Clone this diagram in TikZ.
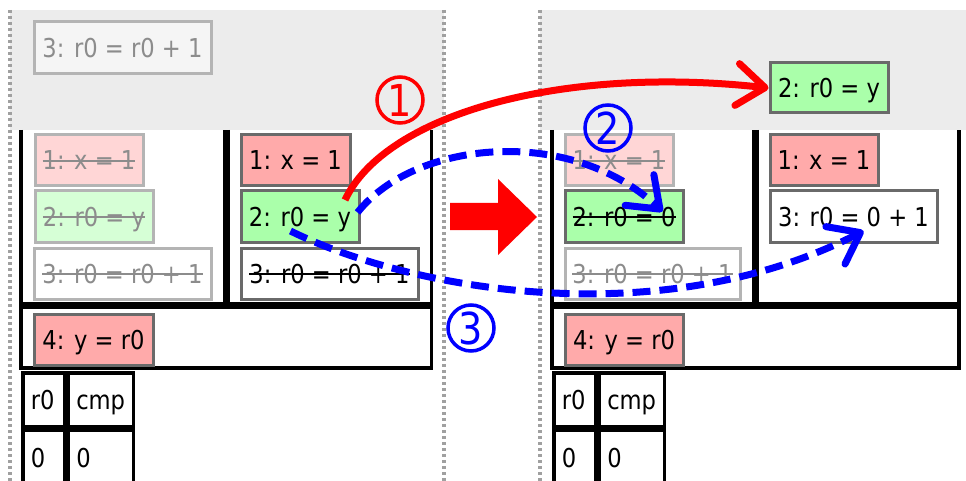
\documentclass[tikz,border=0pt]{standalone}
\usepackage{fontspec}
\setmainfont[FakeStretch=0.87]{DejaVu Sans}
\usetikzlibrary{calc,arrows.meta}

\newsavebox\strikebox
\newcommand\strike[1]{\sbox\strikebox{#1}\rlap{\usebox\strikebox}\rule[0.32em]{\wd\strikebox}{1.6pt}}

\definecolor{bggray}{HTML}{ECECEC}
\definecolor{sepgray}{HTML}{A0A0A0}
\definecolor{opline}{HTML}{6A6A6A}
\definecolor{goneline}{HTML}{B4B4B4}
\definecolor{gonetext}{HTML}{8C8C8C}
\definecolor{opred}{HTML}{FFAAAA}
\definecolor{opgreen}{HTML}{AAFFAA}
\definecolor{gonered}{HTML}{FFD6D6}
\definecolor{gonegreen}{HTML}{D6FFD6}
\definecolor{waitfill}{HTML}{F5F5F5}

\tikzset{
  op/.style={draw=opline, line width=3pt, anchor=north west, inner sep=0pt,
    minimum height=51pt, text height=19pt, text depth=0pt, fill=white},
  gone/.style={op, draw=goneline, text=gonetext},
  cell/.style={draw, line width=3.5pt, anchor=north west, inner xsep=8pt,
    inner ysep=0pt, align=left, text height=19pt, text depth=0pt},
  circnum/.style={circle, draw, line width=3.5pt, inner sep=0pt,
    minimum size=46pt, font=\fontsize{44}{44}\selectfont},
  move/.style={line width=7pt, -{Straight Barb[length=28pt,width=42pt,round]}},
  relay/.style={move, blue, dash pattern=on 18pt off 9pt},
}

\begin{document}
\begin{tikzpicture}[x=1pt, y=-1pt, font=\fontsize{26}{30}\selectfont]
  \useasboundingbox (0,0) rectangle (966,481);

  \fill[bggray] (10,10) rectangle (444,130);
  \fill[bggray] (540,10) rectangle (966,130);
  \foreach \x in {10,444,540}
    \draw[sepgray, line width=3.5pt, dash pattern=on 3pt off 3pt] (\x,10) -- (\x,481);

  % columns, row 4 and registers
  \begin{scope}[line width=3.5pt]
    \foreach \l/\m/\r in {21/226.5/431.5, 552/755.5/959}{
      \draw (\l,130) |- (\m-1.75,303.75) -- (\m-1.75,130);
      \draw (\m+1.75,130) |- (\r,303.75) -- (\r,130);
      \draw (\l,307.25) rectangle (\r,367.75);
    }
  \end{scope}

  \foreach \x/\p in {21/l, 552/r}{
    \node[cell, text width=26pt, minimum height=53.5pt] (\p r0) at (\x,371.25) {r0};
    \node[cell, text width=49pt, minimum height=53.5pt] (\p cmp) at (\x+45.5,371.25) {cmp};
    \node[cell, text width=26pt, minimum height=56pt] (\p r0v) at (\x,428.25) {0};
    \node[cell, text width=49pt, minimum height=56pt] (\p cmpv) at (\x+45.5,428.25) {0};
  }

  % before
  \node[gone, fill=waitfill, minimum width=177pt, minimum height=52pt] (ltop3) at (32.5,20.5) {3: r0 = r0 + 1};

  \node[gone, fill=gonered, minimum width=108pt] (la1) at (33.5,133.5) {\strike{1: x = 1}};
  \node[gone, fill=gonegreen, minimum width=118pt] (la2) at (33.5,189.5) {\strike{2: r0 = y}};
  \node[gone, minimum width=177pt] (la3) at (32.5,246.5) {\strike{3: r0 = r0 + 1}};

  \node[op, fill=opred, minimum width=109pt] (lb1) at (239.5,133.5) {1: x = 1};
  \node[op, fill=opgreen, minimum width=118pt] (lb2) at (239.5,189.5) {2: r0 = y};
  \node[op, minimum width=177pt] (lb3) at (239.5,246.5) {\strike{3: r0 = r0 + 1}};

  \node[op, fill=opred, minimum width=119pt] (l4) at (32.5,312.5) {4: y = r0};

  % after
  \node[op, fill=opgreen, minimum width=118pt, minimum height=50pt] (rtop2) at (768.5,61.5) {2: r0 = y};

  \node[gone, fill=gonered, minimum width=108pt] (ra1) at (563.5,133.5) {\strike{1: x = 1}};
  \node[op, fill=opgreen, minimum width=118pt] (ra2) at (563.5,189.5) {\strike{2: r0 = 0}};
  \node[gone, minimum width=175pt] (ra3) at (563.5,246.5) {\strike{3: r0 = r0 + 1}};

  \node[op, fill=opred, minimum width=108pt] (rb1) at (768.5,133.5) {1: x = 1};
  \node[op, minimum width=167pt] (rb3) at (768.5,189.5) {3: r0 = 0 + 1};

  \node[op, fill=opred, minimum width=118pt] (r4) at (563.5,312.5) {4: y = r0};

  \fill[red] (450,203) -- (498,203) -- (498,179) -- (537,217) -- (498,255)
    -- (498,230) -- (450,230) -- cycle;

  \draw[move, red] ($(lb2.north east)+(-15.5,10.5)$)
    .. controls (385,115) and (560,65) .. (rtop2.west);
  \draw[relay] ($(lb2.east)+(-3,-4)$)
    .. controls (415,140) and (570,125) .. ($(ra2.north east)+(-22,22)$);
  \draw[relay] ($(lb2.south)+(-9.5,-12.5)$)
    .. controls (410,290) and (660,335) .. ($(rb3.south)+(10,-12.5)$);

  \node[circnum, red] (n1) at (400,100) {1};
  \node[circnum, blue] (n2) at (608,128) {2};
  \node[circnum, blue] (n3) at (471,328) {3};
\end{tikzpicture}
\end{document}
